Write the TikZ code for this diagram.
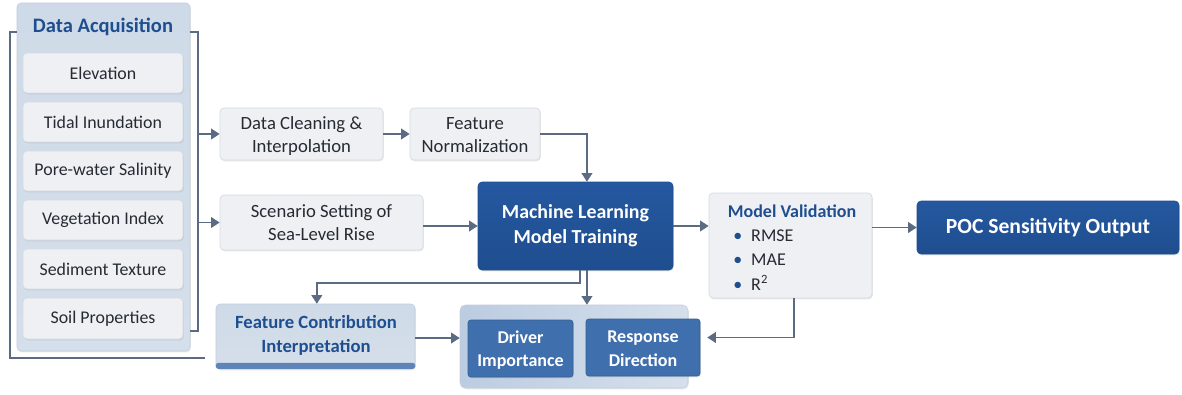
\documentclass[tikz,border=0pt]{standalone}
\usepackage{fontspec}
\setmainfont{Carlito}
\usetikzlibrary{fit,arrows.meta,shadows,calc}

\definecolor{navy}{HTML}{1F4E8F}
\definecolor{navytop}{HTML}{2558A0}
\definecolor{midblue}{HTML}{3F6FAD}
\definecolor{panelfill}{HTML}{D5DFEB}
\definecolor{paneltop}{HTML}{CFDAE8}
\definecolor{panelline}{HTML}{C2CEDD}
\definecolor{boxfill}{HTML}{EEF0F3}
\definecolor{boxline}{HTML}{D6DAE0}
\definecolor{wire}{HTML}{5B6B82}
\definecolor{strip}{HTML}{5F85B8}
\definecolor{grpleft}{HTML}{BCCCE1}
\definecolor{grpright}{HTML}{D6E0EC}
\definecolor{textdark}{HTML}{262B33}

\tikzset{
  x=0.75pt, y=-0.75pt,
  soft/.style={drop shadow={opacity=0.18, shadow xshift=0.6pt, shadow yshift=-1pt}},
  % label text styles
  plain/.style={align=center, text=textdark, inner sep=0pt},
  itemtxt/.style={plain, font=\fontsize{13.4}{16}\selectfont},
  stagetxt/.style={plain, font=\fontsize{14}{17.3}\selectfont},
  whitetxt/.style={align=center, text=white, inner sep=0pt, font=\bfseries\fontsize{14.9}{18.5}\selectfont},
  midtxt/.style={align=center, text=white, inner sep=0pt, font=\bfseries\fontsize{13.5}{17.5}\selectfont},
  bluetitle/.style={text=navy, inner sep=0pt, font=\bfseries\fontsize{15.4}{18}\selectfont},
  % box styles
  itembox/.style={draw=boxline, fill=boxfill, rounded corners=3pt, line width=0.5pt,
    inner sep=0pt, soft},
  darkbox/.style={draw=navy, top color=navytop, bottom color=navy, rounded corners=3pt,
    inner sep=0pt, soft},
  midbox/.style={draw=midblue!85!black, fill=midblue, rounded corners=2pt,
    inner sep=0pt, soft},
  paleblue/.style={draw=panelline, top color=paneltop, bottom color=panelfill,
    rounded corners=3pt, inner sep=0pt, soft},
  arr/.style={draw=wire, line width=1.4pt, -{Triangle[width=8pt,length=6.5pt]}},
  bracket/.style={draw=wire, line width=1pt},
}

\begin{document}
\begin{tikzpicture}
\useasboundingbox[fill=white] (0,0) rectangle (1182,394);

% ---- data acquisition panel ----
\node[paleblue, fit={(17,3) (190,351)}] (acq) {};
\node[bluetitle] (acqtitle) at (103,27) {Data Acquisition};

\node[itembox, fit={(23,53) (183,93)},   label={[itemtxt]center:Elevation}] (elev) {};
\node[itembox, fit={(23,102) (183,142)}, label={[itemtxt]center:Tidal Inundation}] (tide) {};
\node[itembox, fit={(23,151) (183,191)}, label={[itemtxt]center:Pore-water Salinity}] (sal) {};
\node[itembox, fit={(23,200) (183,240)}, label={[itemtxt]center:Vegetation Index}] (veg) {};
\node[itembox, fit={(23,249) (183,289)}, label={[itemtxt]center:Sediment Texture}] (sed) {};
\node[itembox, fit={(23,298) (183,339)}, label={[itemtxt]center:Soil Properties}] (soil) {};

% brackets around the panel
\coordinate (lbend) at (205,358);
\draw[bracket] (acq.west |- 0,32) -- (10,32) -- (10,358) -- (lbend);
\coordinate (rtop) at (198,32);
\coordinate (rbot) at (198,331);
\draw[bracket] (acq.east |- rtop) -- (rtop) -- (rbot) -- (acq.east |- rbot);

% ---- processing stages ----
\node[itembox, fit={(220,108) (383,160)},
  label={[stagetxt, yshift=-1.5pt]center:Data Cleaning \&\\Interpolation}] (clean) {};
\node[itembox, fit={(410,108) (540,160)},
  label={[stagetxt, yshift=-1pt]center:Feature\\Normalization}] (norm) {};
\node[itembox, fit={(220,195) (423,250)},
  label={[stagetxt]center:Scenario Setting of\\Sea-Level Rise}] (scen) {};

\node[darkbox, fit={(478,182) (673,270)},
  label={[whitetxt]center:Machine Learning\\Model Training}] (ml) {};

\node[itembox, fit={(709,193) (872,298)}] (val) {};
\node[bluetitle, font=\bfseries\fontsize{13.5}{16}\selectfont] (valtitle) at (792,211) {Model Validation};
\node[anchor=west, plain, font=\fontsize{13.5}{16}\selectfont] (v1) at (733,236) {\textcolor{navy}{\textbullet}\enspace RMSE};
\node[anchor=west, plain, font=\fontsize{13.5}{16}\selectfont] (v2) at (733,260) {\textcolor{navy}{\textbullet}\enspace MAE};
\node[anchor=west, plain, font=\fontsize{13.5}{16}\selectfont] (v3) at (733,283) {\textcolor{navy}{\textbullet}\enspace R\textsuperscript{2}};

\node[darkbox, fit={(917,201) (1179,254)},
  label={[whitetxt, font=\bfseries\fontsize{16.2}{18}\selectfont]center:POC Sensitivity Output}] (poc) {};

% ---- interpretation ----
\node[paleblue, fit={(216,304) (415,369)}] (fci) {};
\fill[strip, rounded corners=2pt] ([yshift=0.3pt]fci.south west) rectangle ([yshift=4.8pt]fci.south east);
\node[align=center, text=navy, inner sep=0pt, font=\bfseries\fontsize{14}{18}\selectfont]
  (fcitxt) at (316,335) {Feature Contribution\\Interpretation};

\node[fit={(460,305) (688,388)}, inner sep=0pt, draw=panelline, left color=grpleft,
  right color=grpright, rounded corners=4pt, soft] (grp) {};
\node[midbox, fit={(468,320) (573,377)}, label={[midtxt, yshift=-1pt]center:Driver\\Importance}] (drv) {};
\node[midbox, fit={(586,319) (700,376)}, label={[midtxt, yshift=-1pt]center:Response\\Direction}] (rsp) {};

% ---- connectors ----
\draw[arr] (rtop |- clean.west) -- (clean.west);
\draw[arr] (rtop |- scen.west) -- (scen.west);
\draw[arr] (clean.east) -- (norm.west);
\draw[arr] (norm.east) -| ([xshift=8.6pt]ml.north);
\draw[arr] (scen.east |- ml.west) -- (ml.west);
\draw[arr] (ml.east) -- (ml.east -| val.west);
\draw[arr] (val.east |- poc.west) -- (poc.west);
\draw[arr] ([xshift=3.4pt]ml.south) -- ++(0,13) -| ([xshift=1pt]fci.north);
\draw[arr] ([xshift=8.6pt]ml.south) -- ([xshift=8.6pt]ml.south |- grp.north);
\draw[arr] (fci.east |- 0,338) -- (grp.west |- 0,338);
\draw[arr] ([xshift=2.6pt]val.south) |- ([xshift=5.25pt,yshift=7.5pt]rsp.east);
\end{tikzpicture}
\end{document}
